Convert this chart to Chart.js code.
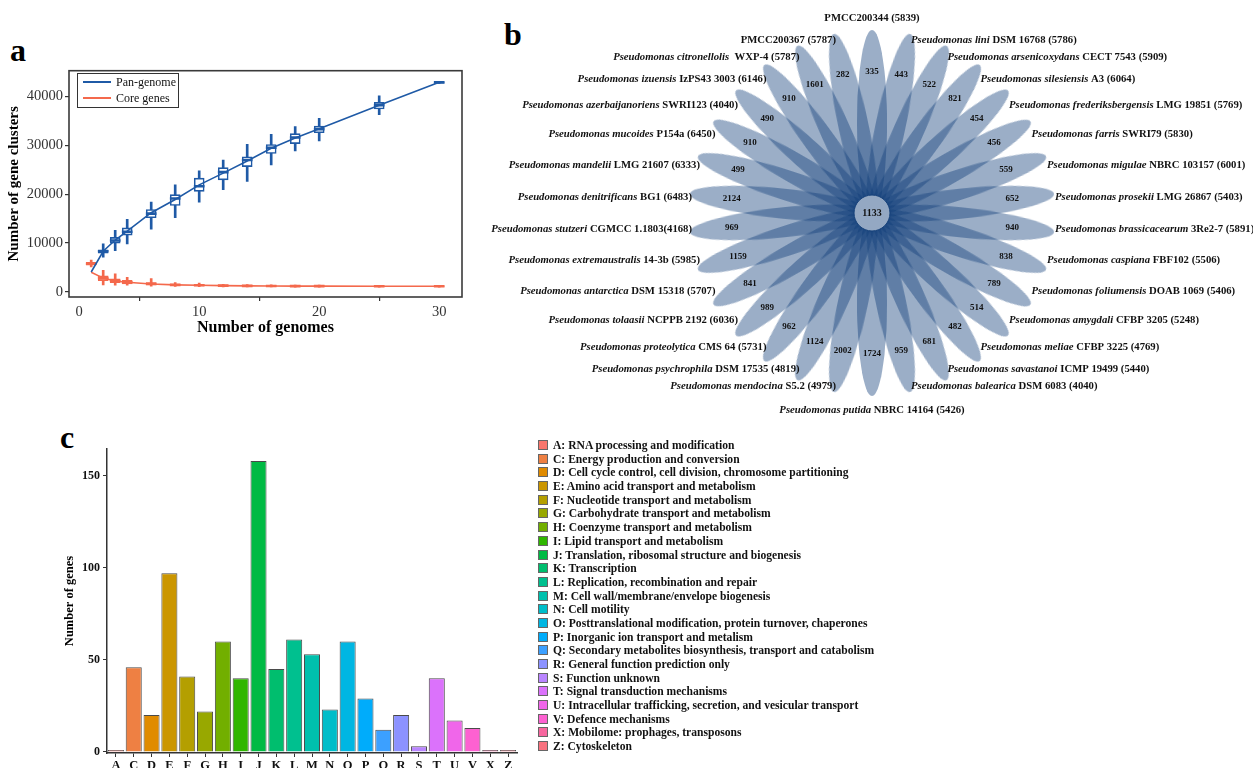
<!DOCTYPE html>
<html>
<head>
<meta charset="utf-8">
<script src="https://cdn.jsdelivr.net/npm/chart.js@4.4.1/dist/chart.umd.min.js"></script>
<style>
  html, body { margin: 0; padding: 0; background: #fff; overflow: hidden; }
  body { width: 1253px; height: 768px; position: relative; font-family: 'Liberation Serif', 'Times New Roman', serif; }
  canvas { position: absolute; }
  .tag { position: absolute; font-weight: bold; font-size: 32px; line-height: 32px; color: #000; }
  #legendA { position: absolute; left: 77px; top: 73px; width: 100px; height: 33px; border: 1px solid #333; font-size: 12px; }
  #legendA div { position: absolute; left: 5px; height: 14px; line-height: 14px; }
  #legendA span.ln { position: absolute; left: 0; top: 6px; width: 28px; height: 2px; }
  #legendA span.tx { position: absolute; left: 33px; top: 0; white-space: nowrap; color: #111; }
  #legendC { position: absolute; left: 538px; top: 439px; margin: 0; padding: 0; list-style: none; }
  #legendC li { height: 13.7px; line-height: 13.7px; white-space: nowrap; font-size: 11.6px; font-weight: bold; color: #111; }
  #legendC li i { display: inline-block; width: 10px; height: 10px; border: 1px solid #666; box-sizing: border-box; vertical-align: -1px; margin-right: 5px; }
</style>
</head>
<body>
<div class="tag" style="left:10px; top:34px;">a</div>
<div class="tag" style="left:504px; top:18px;">b</div>
<div class="tag" style="left:60px; top:421px;">c</div>

<canvas id="chartA" width="480" height="280" style="left:0; top:60px;"></canvas>
<div id="legendA">
  <div style="top:1px;"><span class="ln" style="background:#1f5aa6"></span><span class="tx">Pan-genome</span></div>
  <div style="top:17px;"><span class="ln" style="background:#f4694c"></span><span class="tx">Core genes</span></div>
</div>

<canvas id="chartB" width="763" height="420" style="left:490px; top:0;"></canvas>

<canvas id="chartC" width="540" height="350" style="left:0; top:430px;"></canvas>
<ul id="legendC"></ul>

<script>
const serif = "'Liberation Serif', 'Times New Roman', serif";
const BLUE = '#1f5aa6';
const RED = '#f4694c';

// ---- panel a: pan / core genome curves ----
const genomeSteps = [1, 2, 3, 4, 6, 8, 10, 12, 14, 16, 18, 20, 25, 30];
const panCurve  = [4050, 8300, 10600, 12400, 16200, 18900, 21900, 24300, 26800, 29400, 31500, 33400, 38200, 42900];
const coreCurve = [4000, 2800, 2200, 1950, 1600, 1420, 1330, 1250, 1210, 1180, 1160, 1150, 1140, 1133];

const panBoxX = [2, 3, 4, 6, 8, 10, 12, 14, 16, 18, 20, 25, 30];
const panLo  = [7100, 8430, 9780, 12820, 15180, 18350, 20910, 22600, 25970, 28870, 30890, 36290, 42650];
const panQ1  = [7900, 9980, 11600, 15180, 17670, 20570, 22930, 25630, 28330, 30350, 32580, 37430, 42750];
const panMed = [8300, 10500, 12300, 16000, 19100, 21600, 24500, 27000, 29500, 31600, 33300, 38200, 42880];
const panQ3  = [8600, 11130, 13090, 16860, 19900, 23270, 25430, 27650, 30150, 32380, 33930, 38780, 43000];
const panHi  = [9800, 12600, 14840, 18350, 21920, 24750, 26980, 30220, 32240, 33860, 35550, 40130, 43100];

const coreBoxX = [1, 2, 3, 4, 6, 8, 10, 12, 14, 16, 18, 20, 25, 30];
const coreLo  = [5100, 1400, 1350, 1350, 1150, 1100, 1050, 1000, 980, 970, 960, 960, 960, 960];
const coreQ1  = [5450, 2300, 1850, 1600, 1400, 1250, 1200, 1120, 1100, 1080, 1070, 1060, 1050, 1040];
const coreMed = [5750, 2800, 2200, 1950, 1620, 1420, 1330, 1250, 1210, 1180, 1160, 1150, 1140, 1133];
const coreQ3  = [6050, 3250, 2650, 2350, 1900, 1600, 1500, 1380, 1350, 1300, 1280, 1260, 1230, 1220];
const coreHi  = [6500, 4400, 3700, 2950, 2700, 1900, 1800, 1500, 1450, 1400, 1380, 1350, 1300, 1280];

const genomeTicks = [0, 10, 20, 30];
const clusterTicks = [0, 10000, 20000, 30000, 40000];

// ---- panel b: flower diagram ----
const strainSpecies = [
  '', 'Pseudomonas lini', 'Pseudomonas arsenicoxydans', 'Pseudomonas silesiensis',
  'Pseudomonas frederiksbergensis', 'Pseudomonas farris', 'Pseudomonas migulae', 'Pseudomonas prosekii',
  'Pseudomonas brassicacearum', 'Pseudomonas caspiana', 'Pseudomonas foliumensis', 'Pseudomonas amygdali',
  'Pseudomonas meliae', 'Pseudomonas savastanoi', 'Pseudomonas balearica', 'Pseudomonas putida',
  'Pseudomonas mendocina', 'Pseudomonas psychrophila', 'Pseudomonas proteolytica', 'Pseudomonas tolaasii',
  'Pseudomonas antarctica', 'Pseudomonas extremaustralis', 'Pseudomonas stutzeri', 'Pseudomonas denitrificans',
  'Pseudomonas mandelii', 'Pseudomonas mucoides', 'Pseudomonas azerbaijanoriens', 'Pseudomonas izuensis',
  'Pseudomonas citronellolis', ''
];
const strainIds = [
  'PMCC200344 (5839)', 'DSM 16768 (5786)', 'CECT 7543 (5909)', 'A3 (6064)',
  'LMG 19851 (5769)', 'SWRI79 (5830)', 'NBRC 103157 (6001)', 'LMG 26867 (5403)',
  '3Re2-7 (5891)', 'FBF102 (5506)', 'DOAB 1069 (5406)', 'CFBP 3205 (5248)',
  'CFBP 3225 (4769)', 'ICMP 19499 (5440)', 'DSM 6083 (4040)', 'NBRC 14164 (5426)',
  'S5.2 (4979)', 'DSM 17535 (4819)', 'CMS 64 (5731)', 'NCPPB 2192 (6036)',
  'DSM 15318 (5707)', '14-3b (5985)', 'CGMCC 1.1803(4168)', 'BG1 (6483)',
  'LMG 21607 (6333)', 'P154a (6450)', 'SWRI123 (4040)', 'IzPS43 3003 (6146)',
  ' WXP-4 (5787)', 'PMCC200367 (5787)'
];
const uniqueGenes = [335, 443, 522, 821, 454, 456, 559, 652, 940, 838, 789, 514, 482, 681, 959,
                     1724, 2002, 1124, 962, 989, 841, 1159, 969, 2124, 499, 910, 490, 910, 1601, 282];
const coreGenes = 1133;

// ---- panel c: COG categories ----
const cogCodes = ['A','C','D','E','F','G','H','I','J','K','L','M','N','O','P','Q','R','S','T','U','V','X','Z'];
const cogCounts = [1, 46, 20, 97, 41, 22, 60, 40, 158, 45, 61, 53, 23, 60, 29, 12, 20, 3, 40, 17, 13, 1, 1];
const cogNames = [
  'RNA processing and modification',
  'Energy production and conversion',
  'Cell cycle control, cell division, chromosome partitioning',
  'Amino acid transport and metabolism',
  'Nucleotide transport and metabolism',
  'Carbohydrate transport and metabolism',
  'Coenzyme transport and metabolism',
  'Lipid transport and metabolism',
  'Translation, ribosomal structure and biogenesis',
  'Transcription',
  'Replication, recombination and repair',
  'Cell wall/membrane/envelope biogenesis',
  'Cell motility',
  'Posttranslational modification, protein turnover, chaperones',
  'Inorganic ion transport and metalism',
  'Secondary metabolites biosynthesis, transport and catabolism',
  'General function prediction only',
  'Function unknown',
  'Signal transduction mechanisms',
  'Intracellular trafficking, secretion, and vesicular transport',
  'Defence mechanisms',
  'Mobilome: prophages, transposons',
  'Cytoskeleton'
];
const cogColors = ['#f8766d','#ee8043','#e08b00','#cb9600','#b49f00','#98a800','#72af00','#2fb600','#00ba44',
                   '#00be6e','#00c08f','#00c0ad','#00bdc9','#00b6e2','#00acfb','#3ca0ff','#8c92ff','#b985ff',
                   '#db72fb','#f066ea','#fd61d1','#f7679f','#f8727f'];
const geneTicks = [0, 50, 100, 150];

// helpers
const pts = (xs, ys) => xs.map((x, i) => ({ x, y: ys[i] }));
const spans = (xs, lo, hi) => xs.map((x, i) => ({ x, y: [lo[i], hi[i]] }));
const medBars = (xs, med) => xs.map((x, i) => ({ x, y: [med[i] - 200, med[i] + 200] }));
const fixTicks = list => scale => { scale.ticks = list.map(v => ({ value: v })); };

const frame = {
  id: 'frame',
  afterDatasetsDraw(chart) {
    const { ctx, chartArea: a } = chart;
    ctx.save();
    ctx.strokeStyle = '#3a3a3a';
    ctx.lineWidth = 1.6;
    ctx.strokeRect(a.left, a.top, a.right - a.left, a.bottom - a.top);
    ctx.restore();
  }
};

function boxSets(xs, lo, q1, med, q3, hi, color) {
  return [
    { type: 'bar', data: medBars(xs, med), backgroundColor: color, barThickness: 10, grouped: false, order: 1 },
    { type: 'bar', data: spans(xs, q1, q3), backgroundColor: '#ffffff', borderColor: color, borderWidth: 1.6,
      borderSkipped: false, barThickness: 10, grouped: false, order: 2 },
    { type: 'bar', data: spans(xs, lo, hi), backgroundColor: color, barThickness: 2, grouped: false, order: 3 }
  ];
}

new Chart(document.getElementById('chartA'), {
  type: 'line',
  data: {
    datasets: [
      { type: 'line', label: 'Pan-genome', data: pts(genomeSteps, panCurve), borderColor: BLUE, borderWidth: 1.6, pointRadius: 0, order: 0 },
      { type: 'line', label: 'Core genes', data: pts(genomeSteps, coreCurve), borderColor: RED, borderWidth: 1.6, pointRadius: 0, order: 0 },
      ...boxSets(panBoxX, panLo, panQ1, panMed, panQ3, panHi, BLUE),
      ...boxSets(coreBoxX, coreLo, coreQ1, coreMed, coreQ3, coreHi, RED)
    ]
  },
  options: {
    responsive: false, animation: false, events: [],
    layout: { autoPadding: false, padding: { top: 8, right: 18, left: 0, bottom: 0 } },
    plugins: { legend: { display: false }, tooltip: { enabled: false } },
    scales: {
      x: {
        type: 'linear', min: -0.85, max: 31.9, offset: false,
        afterBuildTicks: fixTicks(genomeTicks),
        ticks: { color: '#333', font: { family: serif, size: 14.5 }, padding: 2 },
        grid: { drawOnChartArea: false, tickLength: 4, color: '#333', lineWidth: 1.2 },
        border: { display: false },
        title: { display: true, text: 'Number of genomes', color: '#000', font: { family: serif, size: 16, weight: 'bold' }, padding: { top: 0, bottom: 3 } },
        afterFit(s) { s.height = 43; }
      },
      y: {
        min: -1070, max: 45280,
        afterBuildTicks: fixTicks(clusterTicks),
        ticks: { color: '#333', font: { family: serif, size: 14.5 }, padding: 2, callback: v => String(v) },
        grid: { drawOnChartArea: false, tickLength: 4, color: '#333', lineWidth: 1.2 },
        border: { display: false },
        title: { display: true, text: 'Number of gene clusters', color: '#000', font: { family: serif, size: 15, weight: 'bold' }, padding: { top: 5, bottom: 0 } },
        afterFit(s) { s.width = 69; }
      }
    }
  },
  plugins: [frame]
});

// ---- flower ----
const TIP_R = 183, PETAL_A = 93, PETAL_B = 15, NUM_R = 141;
const petalAngle = i => 90 - 12 * i;

const petalImg = document.createElement('canvas');
petalImg.width = 2 * PETAL_A + 2;
petalImg.height = 2 * PETAL_B + 2;
(() => {
  const g = petalImg.getContext('2d');
  g.fillStyle = 'rgba(12, 58, 120, 0.41)';
  g.beginPath();
  g.ellipse(petalImg.width / 2, petalImg.height / 2, PETAL_A, PETAL_B, 0, 0, Math.PI * 2);
  g.fill();
})();

const petalCentres = uniqueGenes.map((_, i) => {
  const t = petalAngle(i) * Math.PI / 180, d = TIP_R - PETAL_A;
  return { x: d * Math.cos(t), y: d * Math.sin(t) };
});

const flowerText = {
  id: 'flowerText',
  afterDatasetsDraw(chart) {
    const { ctx } = chart;
    const xs = chart.scales.x, ys = chart.scales.y;
    ctx.save();
    ctx.fillStyle = '#111';
    ctx.textBaseline = 'middle';
    const italicFont = 'italic bold 10.7px ' + serif, plainFont = 'bold 10.7px ' + serif;
    uniqueGenes.forEach((n, i) => {
      const t = petalAngle(i) * Math.PI / 180, c = Math.cos(t), s = Math.sin(t);
      ctx.font = 'bold 9px ' + serif;
      ctx.textAlign = 'center';
      ctx.fillText(String(n), xs.getPixelForValue(NUM_R * c), ys.getPixelForValue(NUM_R * s));

      let px = xs.getPixelForValue(TIP_R * c), py = ys.getPixelForValue(TIP_R * s);
      const sp = strainSpecies[i], id = strainIds[i];
      ctx.font = italicFont;
      const w1 = sp ? ctx.measureText(sp + ' ').width : 0;
      ctx.font = plainFont;
      const w2 = ctx.measureText(id).width;
      let start;
      if (Math.abs(c) < 0.01) {
        py += s > 0 ? -12 : 14;
        start = px - (w1 + w2) / 2;
      } else {
        py += 30 * s * Math.abs(c);
        start = c > 0 ? px + 1 : px + 2 - (w1 + w2);
      }
      ctx.textAlign = 'left';
      if (sp) { ctx.font = italicFont; ctx.fillText(sp + ' ', start, py); }
      ctx.font = plainFont;
      ctx.fillText(id, start + w1, py);
    });
    ctx.font = 'bold 10px ' + serif;
    ctx.textAlign = 'center';
    ctx.fillText(String(coreGenes), xs.getPixelForValue(0), ys.getPixelForValue(0));
    ctx.restore();
  }
};

new Chart(document.getElementById('chartB'), {
  type: 'scatter',
  data: {
    datasets: [
      { data: [{ x: 0, y: 0 }], pointStyle: 'circle', pointRadius: 18, pointBackgroundColor: '#94a8c3',
        pointBorderColor: '#143f78', pointBorderWidth: 1, order: 0, clip: false },
      { data: petalCentres, pointStyle: petalImg, pointRotation: uniqueGenes.map((_, i) => -petalAngle(i)),
        pointRadius: 1, order: 1, clip: false }
    ]
  },
  options: {
    responsive: false, animation: false, events: [],
    layout: { autoPadding: false, padding: 0 },
    plugins: { legend: { display: false }, tooltip: { enabled: false } },
    scales: {
      x: { type: 'linear', display: false, min: -382, max: 381 },
      y: { type: 'linear', display: false, min: -207, max: 213 }
    }
  },
  plugins: [flowerText]
});

// ---- COG bars ----
new Chart(document.getElementById('chartC'), {
  type: 'bar',
  data: {
    labels: cogCodes,
    datasets: [{ data: cogCounts, backgroundColor: cogColors, borderColor: '#4a4a4a', borderWidth: 1,
                 barPercentage: 0.9, categoryPercentage: 1 }]
  },
  options: {
    responsive: false, animation: false, events: [],
    layout: { autoPadding: false, padding: { top: 19, right: 23, left: 60, bottom: 0 } },
    plugins: { legend: { display: false }, tooltip: { enabled: false } },
    scales: {
      x: {
        ticks: { color: '#111', font: { family: serif, size: 12.5, weight: 'bold' }, padding: 1, maxRotation: 0, autoSkip: false },
        grid: { drawOnChartArea: false, offset: false, tickLength: 4, color: '#333' },
        border: { color: '#333', width: 1.5 },
        afterFit(s) { s.height = 27; }
      },
      y: {
        min: -0.6, max: 164.5,
        afterBuildTicks: fixTicks(geneTicks),
        ticks: { color: '#111', font: { family: serif, size: 12, weight: 'bold' }, padding: 3 },
        grid: { drawOnChartArea: false, tickLength: 4, color: '#333' },
        border: { color: '#333', width: 1.5 },
        title: { display: true, text: 'Number of genes', color: '#000', font: { family: serif, size: 12.5, weight: 'bold' }, padding: { top: 2, bottom: 4 } },
        afterFit(s) { s.width = 47; }
      }
    }
  }
});

const legendC = document.getElementById('legendC');
cogCodes.forEach((code, i) => {
  const li = document.createElement('li');
  li.innerHTML = '<i style="background:' + cogColors[i] + '"></i>' + code + ': ' + cogNames[i];
  legendC.appendChild(li);
});
</script>
</body>
</html>
